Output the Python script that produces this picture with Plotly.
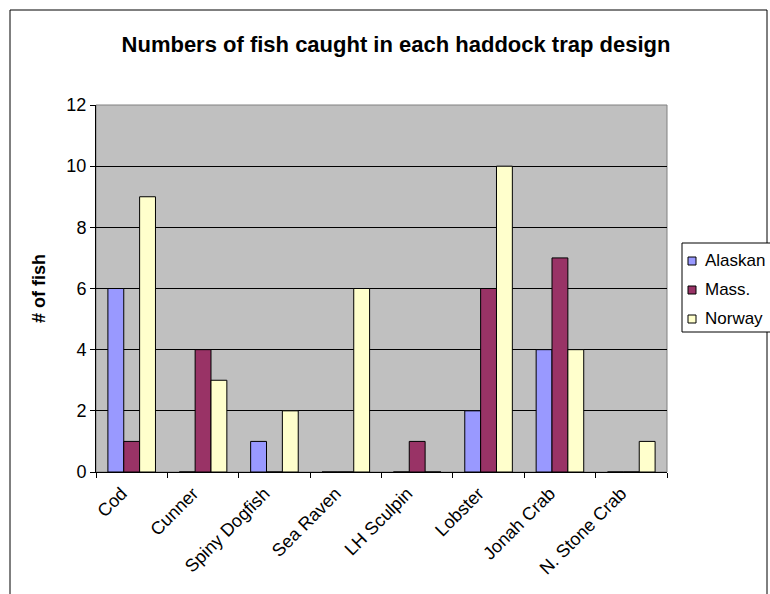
import plotly.graph_objects as go

# Fish species and catch counts per trap design
species = ["Cod", "Cunner", "Spiny Dogfish", "Sea Raven", "LH Sculpin",
           "Lobster", "Jonah Crab", "N. Stone Crab"]
alaskan = [6, 0, 1, 0, 0, 2, 4, 0]
mass = [1, 4, 0, 0, 1, 6, 7, 0]
norway = [9, 3, 2, 6, 0, 10, 4, 1]

series_names = ["Alaskan", "Mass.", "Norway"]
series_values = [alaskan, mass, norway]
series_colors = ["#9999FF", "#993366", "#FFFFCC"]

FONT = "Arial, Liberation Sans, sans-serif"

fig = go.Figure()
for name, vals, color in zip(series_names, series_values, series_colors):
    fig.add_trace(go.Bar(
        x=species, y=vals, name=name, showlegend=False,
        marker=dict(color=color, line=dict(color="black", width=1)),
    ))

# plot area geometry in pixels
W, H = 770, 594
L, R, T, B = 96, 103, 105, 122
pw, ph = W - L - R, H - T - B

def px_x(x):
    return (x - L) / pw

def px_y(y):
    return (H - B - y) / ph

shapes = [
    # gray frame around plot area
    dict(type="rect", xref="paper", yref="paper",
         x0=0, x1=1, y0=0, y1=1,
         line=dict(color="#808080", width=1), layer="below"),
    # outer chart border
    dict(type="rect", xref="paper", yref="paper",
         x0=px_x(10), x1=px_x(767), y0=px_y(610), y1=px_y(10),
         line=dict(color="black", width=1)),
    # legend box
    dict(type="rect", xref="paper", yref="paper",
         x0=px_x(682), x1=px_x(790), y0=px_y(332), y1=px_y(243),
         line=dict(color="black", width=1), fillcolor="white"),
]
annotations = []

# legend entries: small swatch + label
row_y = [260, 289, 318]
for name, color, ry in zip(series_names, series_colors, row_y):
    shapes.append(dict(
        type="rect", xref="paper", yref="paper",
        x0=px_x(688), x1=px_x(696), y0=px_y(ry + 5), y1=px_y(ry - 3),
        line=dict(color="black", width=1), fillcolor=color,
    ))
    annotations.append(dict(
        text=name, xref="paper", yref="paper",
        x=px_x(703), y=px_y(ry), xanchor="left", yanchor="middle",
        showarrow=False, font=dict(family=FONT, size=17, color="black"),
    ))

fig.update_layout(
    width=W, height=H,
    margin=dict(l=L, r=R, t=T, b=B, autoexpand=False),
    paper_bgcolor="white",
    plot_bgcolor="#C0C0C0",
    barmode="group",
    bargap=1.5 / 4.5,
    bargroupgap=0,
    showlegend=False,
    font=dict(family=FONT, size=18, color="black"),
    title=dict(
        text="<b>Numbers of fish caught in each haddock trap design</b>",
        x=396 / W, xanchor="center",
        y=1 - 44 / H, yanchor="middle",
        font=dict(family=FONT, size=22, color="black"),
    ),
    xaxis=dict(
        tickangle=-45,
        ticks="outside", tickson="boundaries", ticklen=5,
        tickcolor="black",
        ticklabelshift=-10, ticklabelstandoff=3,
        showline=True, linecolor="black", linewidth=1,
        showgrid=False, automargin=False,
        tickfont=dict(family=FONT, size=18, color="black"),
    ),
    yaxis=dict(
        range=[0, 12], dtick=2,
        ticks="outside", ticklen=5, tickcolor="black",
        showline=True, linecolor="black", linewidth=1,
        showgrid=True, gridcolor="black", gridwidth=1,
        zeroline=False, automargin=False,
        tickfont=dict(family=FONT, size=18, color="black"),
        title=dict(text="<b># of fish</b>", standoff=16,
                   font=dict(family=FONT, size=18, color="black")),
    ),
    shapes=shapes,
    annotations=annotations,
)

fig.write_html("out.html")
